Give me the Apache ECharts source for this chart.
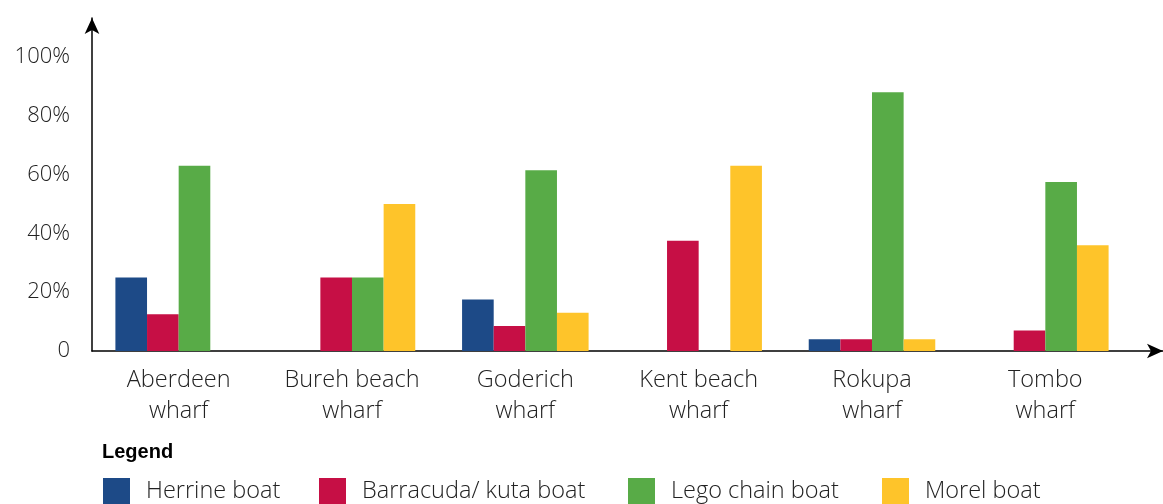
<!DOCTYPE html>
<html>
<head>
<meta charset="utf-8">
<script src="https://cdn.jsdelivr.net/npm/echarts@6/dist/echarts.min.js"></script>
<style>
  html, body { margin: 0; padding: 0; background: #fff; }
  #chart { width: 1163px; height: 504px; }
</style>
</head>
<body>
<div id="chart"></div>
<script>
var wharfs = ['Aberdeen\nwharf', 'Bureh beach\nwharf', 'Goderich\nwharf', 'Kent beach\nwharf', 'Rokupa\nwharf', 'Tombo\nwharf'];
var boatNames = ['Herrine boat', 'Barracuda/ kuta boat', 'Lego chain boat', 'Morel boat'];
var herrine = [25, 0, 17.5, 0, 4, 0];
var barracuda = [12.5, 25, 8.5, 37.5, 4, 7];
var lego = [63, 25, 61.5, 0, 88, 57.5];
var morel = [0, 50, 13, 63, 4, 36];
var boatColors = ['#1d4a87', '#c60f45', '#58ab47', '#fec42a'];

var font = '"Open Sans", "Noto Sans", sans-serif';
var chart = echarts.init(document.getElementById('chart'));

function barSeries(name, data, color) {
  return {
    name: name,
    type: 'bar',
    data: data,
    barGap: 0,
    barCategoryGap: '27%',
    itemStyle: { color: color },
    animation: false
  };
}

// one legend per item so each sits where the reference has it
var legendLeft = [98, 314, 623, 877];
var legends = boatNames.map(function (n, i) {
  return {
    data: [n],
    left: legendLeft[i],
    top: 473,
    icon: 'rect',
    itemWidth: 27,
    itemHeight: 27,
    itemGap: 0,
    selectedMode: false,
    textStyle: { fontFamily: font, fontWeight: 300, fontSize: 23.5, color: '#222', padding: [0, 0, 0, 11] }
  };
});

var option = {
  animation: false,
  title: {
    text: 'Legend',
    left: 97,
    top: 437,
    textStyle: { fontFamily: '"Liberation Sans", sans-serif', fontWeight: 'bold', fontSize: 20, color: '#000' }
  },
  legend: legends,
  grid: [
    { left: 92, right: 31, top: 18, bottom: 153 },
    { left: 92, right: 0, top: 18, bottom: 153 }
  ],
  xAxis: [
    {
      type: 'category',
      gridIndex: 0,
      data: wharfs,
      axisLine: { show: false },
      axisTick: { show: false },
      axisLabel: { interval: 0, margin: 14, fontFamily: font, fontWeight: 300, fontSize: 23.5, lineHeight: 31, color: '#222' }
    },
    {
      type: 'value',
      gridIndex: 1,
      axisLine: { show: true, lineStyle: { color: '#000', width: 1.5 }, symbol: ['none', 'arrow'], symbolSize: [11, 16] },
      axisTick: { show: false },
      axisLabel: { show: false },
      splitLine: { show: false }
    }
  ],
  yAxis: [
    {
      type: 'value',
      gridIndex: 0,
      min: 0,
      max: 113.3,
      interval: 20,
      axisLine: { show: true, onZero: false, lineStyle: { color: '#000', width: 1.5 }, symbol: ['none', 'arrow'], symbolSize: [11, 16] },
      axisTick: { show: false },
      splitLine: { show: false },
      axisLabel: {
        margin: 22,
        fontFamily: font, fontWeight: 300, fontSize: 22, color: '#222',
        formatter: function (v) {
          if (v > 100 || v % 20 !== 0) return '';
          return v === 0 ? '0' : v + '%';
        }
      }
    },
    {
      type: 'value',
      gridIndex: 1,
      show: false
    }
  ],
  series: [
    barSeries(boatNames[0], herrine, boatColors[0]),
    barSeries(boatNames[1], barracuda, boatColors[1]),
    barSeries(boatNames[2], lego, boatColors[2]),
    barSeries(boatNames[3], morel, boatColors[3])
  ]
};
chart.setOption(option);
</script>
</body>
</html>
